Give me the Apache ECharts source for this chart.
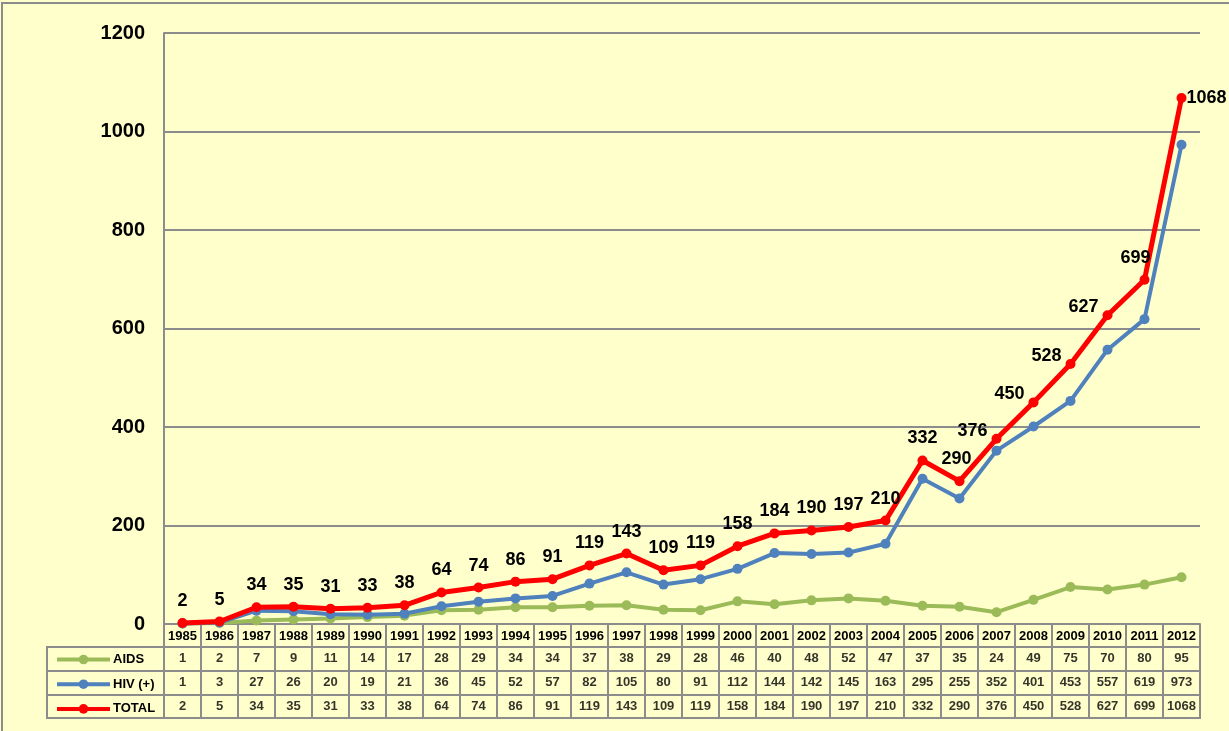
<!DOCTYPE html>
<html lang="en">
  <head>
    <meta charset="UTF-8" />
    <title>AIDS / HIV (+) 1985-2012</title>
    <script src="https://cdn.jsdelivr.net/npm/echarts@6/dist/echarts.min.js"></script>
    <style>
      html, body { margin: 0; padding: 0; background: #ffffcc; }
    </style>
  </head>
  <body>
    <div id="container" style="width: 1229px;height: 731px"></div>
    <script>
      // data
      var years = ['1985', '1986', '1987', '1988', '1989', '1990', '1991', '1992', '1993', '1994',
        '1995', '1996', '1997', '1998', '1999', '2000', '2001', '2002', '2003', '2004',
        '2005', '2006', '2007', '2008', '2009', '2010', '2011', '2012']
      var aids = [1, 2, 7, 9, 11, 14, 17, 28, 29, 34, 34, 37, 38, 29, 28, 46, 40, 48, 52, 47, 37, 35, 24, 49, 75, 70, 80, 95]
      var hiv = [1, 3, 27, 26, 20, 19, 21, 36, 45, 52, 57, 82, 105, 80, 91, 112, 144, 142, 145, 163, 295, 255, 352, 401, 453, 557, 619, 973]
      var total = [2, 5, 34, 35, 31, 33, 38, 64, 74, 86, 91, 119, 143, 109, 119, 158, 184, 190, 197, 210, 332, 290, 376, 450, 528, 627, 699, 1068]
      var rowNames = ['AIDS', 'HIV (+)', 'TOTAL']
      var yMin = 0, yMax = 1200, yStep = 200

      var font = 'Arial, "Liberation Sans", sans-serif'
      var gridGray = '#8c8c8c'
      var colors = ['#9bbb59', '#4f81bd', '#ff0000']

      var myChart = echarts.init(document.querySelector('#container'))

      // label placement tweaks for the steep part of the TOTAL line
      var leftLabels = ['2007', '2008', '2009', '2010']
      var totalData = total.map(function (v, i) {
        var y = years[i]
        if (leftLabels.indexOf(y) >= 0) {
          return { value: v, label: { position: 'left', distance: 4, offset: [0, -8] } }
        }
        if (y === '2012') return { value: v, label: { position: 'right', distance: 0 } }
        if (y === '2011') return { value: v, label: { offset: [-9, 0] } }
        if (y === '2006') return { value: v, label: { offset: [-3, 0] } }
        return v
      })

      // table cells: [column, row, value]
      var cells = []
      ;[aids, hiv, total].forEach(function (row, r) {
        row.forEach(function (v, i) { cells.push([i, r, v]) })
      })

      myChart.setOption({
        backgroundColor: '#ffffcc',
        animation: false,
        textStyle: { fontFamily: font },
        legend: {
          orient: 'vertical',
          left: 55,
          top: 653,
          padding: 0,
          itemWidth: 53,
          itemHeight: 12,
          itemGap: 11.7,
          data: rowNames,
          lineStyle: { width: 4 },
          textStyle: { fontSize: 13, lineHeight: 12, fontWeight: 'bold', color: '#000', fontFamily: font, padding: [0, 0, 0, -2] }
        },
        graphic: [{
          type: 'rect',
          shape: { x: 2, y: 3, width: 1300, height: 800 },
          style: { fill: 'none', stroke: gridGray, lineWidth: 2 },
          silent: true
        }],
        grid: [
          { left: 164, right: 29, top: 33, bottom: 107 },
          { left: 164, right: 29, top: 647, height: 71, show: true, borderColor: gridGray, borderWidth: 2 },
          { left: 47, width: 117, top: 647, height: 71, show: true, borderColor: gridGray, borderWidth: 2 }
        ],
        xAxis: [
          {
            type: 'category',
            gridIndex: 0,
            data: years,
            axisLine: { lineStyle: { color: gridGray, width: 2 } },
            axisTick: { show: true, interval: 0, length: 24, lineStyle: { color: gridGray, width: 2 } },
            axisLabel: { interval: 0, margin: 6, fontSize: 13, fontWeight: 'bold', color: '#000' }
          },
          {
            type: 'category',
            gridIndex: 1,
            data: years,
            axisLine: { show: false },
            axisTick: { show: false },
            axisLabel: { show: false },
            splitLine: { show: true, interval: 0, lineStyle: { color: gridGray, width: 2 } }
          },
          {
            type: 'value',
            gridIndex: 2,
            show: false
          }
        ],
        yAxis: [
          {
            type: 'value',
            gridIndex: 0,
            min: yMin,
            max: yMax,
            interval: yStep,
            axisLine: { show: true, lineStyle: { color: gridGray, width: 2 } },
            axisTick: { show: false },
            axisLabel: {
              margin: 19,
              fontSize: 20,
              fontWeight: 'bold',
              color: '#000',
              formatter: function (v) { return String(v) }
            },
            splitLine: { lineStyle: { color: gridGray, width: 2 } }
          },
          {
            type: 'category',
            gridIndex: 1,
            data: rowNames,
            inverse: true,
            axisLine: { show: false },
            axisTick: { show: false },
            axisLabel: { show: false },
            splitLine: { show: true, interval: 0, lineStyle: { color: gridGray, width: 2 } }
          },
          {
            type: 'category',
            gridIndex: 2,
            data: rowNames,
            inverse: true,
            axisLine: { show: false },
            axisTick: { show: false },
            axisLabel: { show: false },
            splitLine: { show: true, interval: 0, lineStyle: { color: gridGray, width: 2 } }
          }
        ],
        series: [
          {
            name: 'AIDS',
            type: 'line',
            data: aids,
            color: colors[0],
            symbol: 'circle',
            symbolSize: 10,
            lineStyle: { width: 4 },
            z: 2
          },
          {
            name: 'HIV (+)',
            type: 'line',
            data: hiv,
            color: colors[1],
            symbol: 'circle',
            symbolSize: 10,
            lineStyle: { width: 4 },
            z: 3
          },
          {
            name: 'TOTAL',
            type: 'line',
            data: totalData,
            color: colors[2],
            symbol: 'circle',
            symbolSize: 10,
            lineStyle: { width: 5 },
            z: 4,
            label: {
              show: true,
              position: 'top',
              distance: 8,
              fontSize: 18,
              fontWeight: 'bold',
              color: '#000',
              fontFamily: font
            }
          },
          {
            name: 'table',
            type: 'scatter',
            xAxisIndex: 1,
            yAxisIndex: 1,
            data: cells,
            symbolSize: 0,
            silent: true,
            label: {
              show: true,
              position: 'inside',
              formatter: function (p) { return p.value[2] },
              fontSize: 13,
              fontWeight: 'bold',
              color: '#000',
              fontFamily: font
            }
          }
        ]
      })
    </script>
  </body>
</html>
